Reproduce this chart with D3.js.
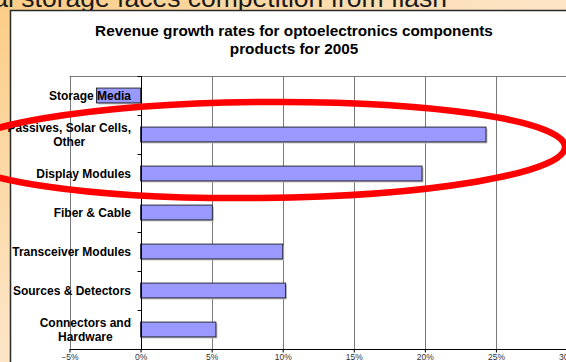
<!DOCTYPE html>
<html>
<head>
<meta charset="utf-8">
<script src="https://cdn.jsdelivr.net/npm/d3@7"></script>
<style>
  html, body { margin: 0; padding: 0; background: #fff; }
  svg { display: block; }
</style>
</head>
<body>
<svg id="chart" width="566" height="362"></svg>
<script>
// Product segments, top to bottom ("\n" marks a wrapped label line)
const categories = [
  "Storage Media",
  "Passives, Solar Cells,\nOther",
  "Display Modules",
  "Fiber & Cable",
  "Transceiver Modules",
  "Sources & Detectors ",
  "Connectors and\nHardware"
];
// 2005 revenue growth rate per segment
const growth = [-0.031, 0.243, 0.198, 0.0505, 0.10, 0.102, 0.053];
// Value axis ticks
const xTicks = [-0.05, 0, 0.05, 0.10, 0.15, 0.20, 0.25, 0.30];
const slideTitle = "Optical storage faces competition from flash";
const chartTitle = ["Revenue growth rates for optoelectronics components", "products for 2005"];

const svg = d3.select("#chart");
const W = 566, H = 362;
const FONT = "Liberation Sans, Arial, sans-serif";

// slide background
const defs = svg.append("defs");
const grad = defs.append("linearGradient").attr("id", "slideBg")
  .attr("x1", "0").attr("y1", "0").attr("x2", "1").attr("y2", "1");
grad.append("stop").attr("offset", "0%").attr("stop-color", "#fbcd86");
grad.append("stop").attr("offset", "45%").attr("stop-color", "#fde3c2");
grad.append("stop").attr("offset", "100%").attr("stop-color", "#fef4ea");
svg.append("rect").attr("width", W).attr("height", H).attr("fill", "url(#slideBg)");

// slide heading, partly scrolled out above the top edge
svg.append("text")
  .attr("x", 447).attr("y", 6.5)
  .attr("text-anchor", "end")
  .attr("font-family", FONT)
  .attr("font-size", 26.5)
  .attr("fill", "#1a1a1a")
  .text(slideTitle);

// white chart panel
svg.append("rect")
  .attr("x", 10.5).attr("y", 10.5).attr("width", 700).attr("height", 500)
  .attr("fill", "#fff").attr("stroke", "#2a2a2a").attr("stroke-width", 1.5);

// chart title
svg.append("text")
  .attr("x", 294).attr("y", 36)
  .attr("text-anchor", "middle")
  .attr("font-family", FONT)
  .attr("font-weight", "bold").attr("font-size", 15.3).attr("fill", "#000")
  .selectAll("tspan").data(chartTitle).join("tspan")
  .attr("x", 294).attr("dy", (d, i) => i === 0 ? 0 : 18)
  .text(d => d);

// scales
const plotTop = 76, plotBottom = 349;
const x = d3.scaleLinear().domain([-0.05, 0.30]).range([69.5, 567]);
const y = d3.scaleBand().domain(categories).range([plotTop, plotBottom])
  .paddingInner(0.62).paddingOuter(0.31);

// vertical gridlines (0% is the category axis)
svg.append("g").selectAll("line")
  .data(xTicks.filter(t => t !== 0)).join("line")
  .attr("x1", d => Math.round(x(d)) + 0.5).attr("x2", d => Math.round(x(d)) + 0.5)
  .attr("y1", plotTop).attr("y2", plotBottom)
  .attr("stroke", "#7a7a7a").attr("stroke-width", 1);

// plot area top edge
svg.append("line")
  .attr("x1", x(-0.05)).attr("x2", W).attr("y1", plotTop + 0.5).attr("y2", plotTop + 0.5)
  .attr("stroke", "#7a7a7a");

// bar shadows
const barData = categories.map((c, i) => ({ c, v: growth[i] }));
svg.append("g").selectAll("rect").data(barData).join("rect")
  .attr("x", d => Math.min(x(0), x(d.v)) + 1.5)
  .attr("y", d => y(d.c) + 1.5)
  .attr("width", d => Math.abs(x(d.v) - x(0)))
  .attr("height", y.bandwidth())
  .attr("fill", "#bdbdbd");

// bars
svg.append("g").selectAll("rect").data(barData).join("rect")
  .attr("x", d => Math.min(x(0), x(d.v)))
  .attr("y", d => y(d.c))
  .attr("width", d => Math.abs(x(d.v) - x(0)))
  .attr("height", y.bandwidth())
  .attr("fill", "#9999ff").attr("stroke", "#2b2b3a").attr("stroke-width", 1);

// category labels: block right-aligned to the axis, lines centred within the block
const labelRight = 131;
const lineH = 14.5;
const labelG = svg.append("g")
  .attr("font-family", FONT)
  .attr("font-weight", "bold").attr("font-size", 12).attr("fill", "#000");
categories.forEach(c => {
  const lines = c.split("\n");
  const cy = y(c) + y.bandwidth() / 2;
  const t = labelG.append("text").attr("text-anchor", "middle");
  const spans = lines.map((ln, i) => t.append("tspan")
    .attr("y", cy + 4.5 + (i - (lines.length - 1) / 2) * lineH)
    .text(ln));
  const maxW = d3.max(spans, s => s.node().getComputedTextLength());
  spans.forEach(s => s.attr("x", labelRight - maxW / 2));
});

// category axis at 0%
const x0 = Math.round(x(0)) + 0.5;
svg.append("line")
  .attr("x1", x0).attr("x2", x0).attr("y1", plotTop).attr("y2", plotBottom)
  .attr("stroke", "#000");
svg.append("g").selectAll("line")
  .data(d3.range(categories.length + 1)).join("line")
  .attr("x1", x0 - 4).attr("x2", x0)
  .attr("y1", i => Math.round(plotTop + i * y.step()) + 0.5)
  .attr("y2", i => Math.round(plotTop + i * y.step()) + 0.5)
  .attr("stroke", "#000");

// value axis
const xAxis = d3.axisBottom(x).tickValues(xTicks).tickFormat(d3.format(".0%"))
  .tickSize(3).tickPadding(1);
const gx = svg.append("g")
  .attr("transform", `translate(0,${plotBottom + 0.5})`)
  .call(xAxis);
gx.select(".domain").attr("stroke", "#000").attr("d", `M${x(-0.05)},0H${W}`);
gx.selectAll(".tick line").attr("stroke", "#000");
gx.selectAll(".tick text")
  .attr("font-family", FONT)
  .attr("font-size", 8.5).attr("fill", "#333");

// red highlight ellipse
svg.append("ellipse")
  .attr("cx", 260).attr("cy", 150).attr("rx", 305).attr("ry", 48)
  .attr("transform", "rotate(-0.6 260 150)")
  .attr("fill", "none").attr("stroke", "#ff0000").attr("stroke-width", 6.5);
</script>
</body>
</html>
